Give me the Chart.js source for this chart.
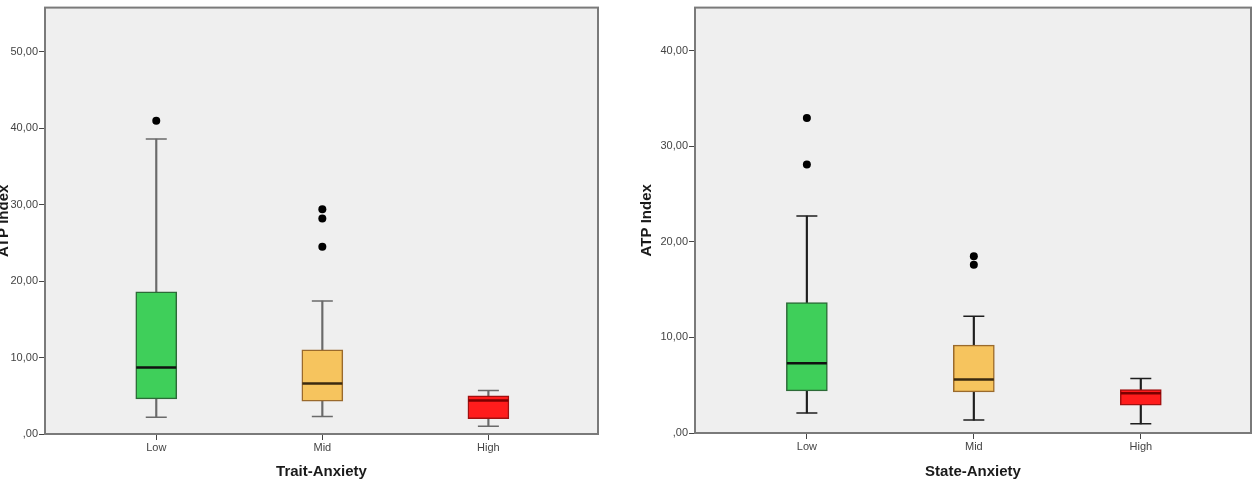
<!DOCTYPE html>
<html>
<head>
<meta charset="utf-8">
<script src="https://cdn.jsdelivr.net/npm/chart.js@4/dist/chart.umd.min.js"></script>
<style>
  html, body { margin: 0; padding: 0; background: #fff; overflow: hidden; }
  body { width: 1255px; height: 484px; position: relative; }
  .panel { position: absolute; top: 0; height: 484px; }
</style>
</head>
<body>
<div class="panel" style="left:-5px;width:605px"><canvas id="trait"></canvas></div>
<div class="panel" style="left:620px;width:635px"><canvas id="state"></canvas></div>
<script>
// categories on the x axis
const categories = ["Low", "Mid", "High"];

// Trait-Anxiety boxes (ATP index)
const traitMin = [2.2, 2.3, 1.0];
const traitQ1 = [4.6, 4.3, 2.0];
const traitMedian = [8.7, 6.6, 4.4];
const traitQ3 = [18.6, 11.0, 5.0];
const traitMax = [38.6, 17.4, 5.7];
const traitOutliers = [[41.0], [29.4, 28.2, 24.5], []];

// State-Anxiety boxes (ATP index)
const stateMin = [2.1, 1.35, 0.96];
const stateQ1 = [4.4, 4.3, 2.9];
const stateMedian = [7.3, 5.6, 4.15];
const stateQ3 = [13.65, 9.2, 4.55];
const stateMax = [22.7, 12.2, 5.7];
const stateOutliers = [[32.95, 28.1], [18.5, 17.6], []];

// y tick labels
const traitTicks = [0, 10, 20, 30, 40, 50];
const traitTickLabels = [",00", "10,00", "20,00", "30,00", "40,00", "50,00"];
const stateTicks = [0, 10, 20, 30, 40];
const stateTickLabels = [",00", "10,00", "20,00", "30,00", "40,00"];

const boxFill = ["#3fcf5a", "#f6c45e", "#ff1c1c"];
const boxEdge = ["#2c6a37", "#9a6a2c", "#a01010"];
const medianColor = ["#111111", "#3a2a10", "#7a0000"];

const frame = {
  id: "frame",
  beforeDraw(chart) {
    const { ctx, chartArea: a } = chart;
    ctx.save();
    ctx.fillStyle = "#efefef";
    ctx.fillRect(a.left, a.top, a.right - a.left, a.bottom - a.top);
    ctx.restore();
  },
  afterDraw(chart) {
    const { ctx, chartArea: a } = chart;
    ctx.save();
    ctx.strokeStyle = "#7a7a7a";
    ctx.lineWidth = 2;
    ctx.strokeRect(a.left, a.top, a.right - a.left, a.bottom - a.top);
    ctx.restore();
  },
};

function boxChart(id, s) {
  const pts = (arr) => arr.map((v, i) => ({ x: i, y: v }));
  const outliers = [];
  s.outliers.forEach((list, i) => list.forEach((v) => outliers.push({ x: i, y: v })));

  new Chart(document.getElementById(id), {
    type: "bar",
    data: {
      datasets: [
        {
          type: "scatter",
          data: outliers,
          pointRadius: 4,
          pointBackgroundColor: "#000",
          pointBorderWidth: 0,
          order: 1,
        },
        {
          type: "scatter",
          data: pts(s.median),
          pointStyle: "line",
          pointRadius: 20,
          pointBorderWidth: 2.5,
          pointBorderColor: medianColor,
          order: 2,
        },
        {
          type: "scatter",
          data: pts(s.min).concat(pts(s.max)),
          pointStyle: "line",
          pointRadius: 10.5,
          pointBorderWidth: 1.5,
          pointBorderColor: s.whisker,
          order: 3,
        },
        {
          data: s.q1.map((v, i) => ({ x: i, y: [v, s.q3[i]] })),
          backgroundColor: boxFill,
          borderColor: boxEdge,
          borderWidth: 1.5,
          borderSkipped: false,
          barThickness: 41,
          grouped: false,
          order: 4,
        },
        {
          data: s.min.map((v, i) => ({ x: i, y: [v, s.max[i]] })),
          backgroundColor: s.whisker,
          borderWidth: 0,
          barThickness: 1.5,
          grouped: false,
          order: 5,
        },
      ],
    },
    options: {
      responsive: true,
      maintainAspectRatio: false,
      animation: false,
      events: [],
      layout: { padding: s.padding, autoPadding: false },
      plugins: { legend: { display: false }, tooltip: { enabled: false } },
      scales: {
        x: {
          type: "linear",
          min: -0.67,
          max: 2.66,
          offset: false,
          grid: { offset: false, drawOnChartArea: false, drawTicks: true, tickLength: 6, tickColor: "#444" },
          border: { display: false },
          afterBuildTicks: (axis) => { axis.ticks = categories.map((c, i) => ({ value: i })); },
          afterFit: (axis) => { axis.height = s.xHeight; },
          ticks: {
            callback: (v, i) => categories[i],
            color: "#444",
            font: { family: "Arial, 'Liberation Sans'", size: 11 },
            padding: 1,
            maxRotation: 0,
          },
          title: {
            display: true,
            text: s.xTitle,
            color: "#1a1a1a",
            font: { family: "Arial, 'Liberation Sans'", size: 15, weight: "bold" },
            padding: { top: 0, bottom: 3 },
          },
        },
        y: {
          min: 0,
          max: s.yMax,
          grid: { drawOnChartArea: false, drawTicks: true, tickLength: 6, tickColor: "#444" },
          border: { display: false },
          afterBuildTicks: (axis) => { axis.ticks = s.ticks.map((v) => ({ value: v })); },
          afterFit: (axis) => { axis.width = s.yWidth; },
          ticks: {
            callback: (v, i) => s.tickLabels[i],
            color: "#444",
            font: { family: "Arial, 'Liberation Sans'", size: 11 },
            padding: 1,
          },
          title: {
            display: true,
            text: "ATP Index",
            color: "#1a1a1a",
            font: { family: "Arial, 'Liberation Sans'", size: 15, weight: "bold" },
            padding: { top: s.yTitlePad, bottom: 0 },
          },
        },
      },
    },
    plugins: [frame],
  });
}

boxChart("trait", {
  min: traitMin, q1: traitQ1, median: traitMedian, q3: traitQ3, max: traitMax,
  outliers: traitOutliers,
  ticks: traitTicks, tickLabels: traitTickLabels,
  yMax: 55.8, xTitle: "Trait-Anxiety", whisker: "#6a6a6a",
  padding: { top: 6, right: 2, left: 0, bottom: 0 },
  yWidth: 50, xHeight: 50, yTitlePad: 0,
});

boxChart("state", {
  min: stateMin, q1: stateQ1, median: stateMedian, q3: stateQ3, max: stateMax,
  outliers: stateOutliers,
  ticks: stateTicks, tickLabels: stateTickLabels,
  yMax: 44.5, xTitle: "State-Anxiety", whisker: "#1e1e1e",
  padding: { top: 5, right: 4, left: 0, bottom: 0 },
  yWidth: 75, xHeight: 51, yTitlePad: 18,
});
</script>
</body>
</html>
